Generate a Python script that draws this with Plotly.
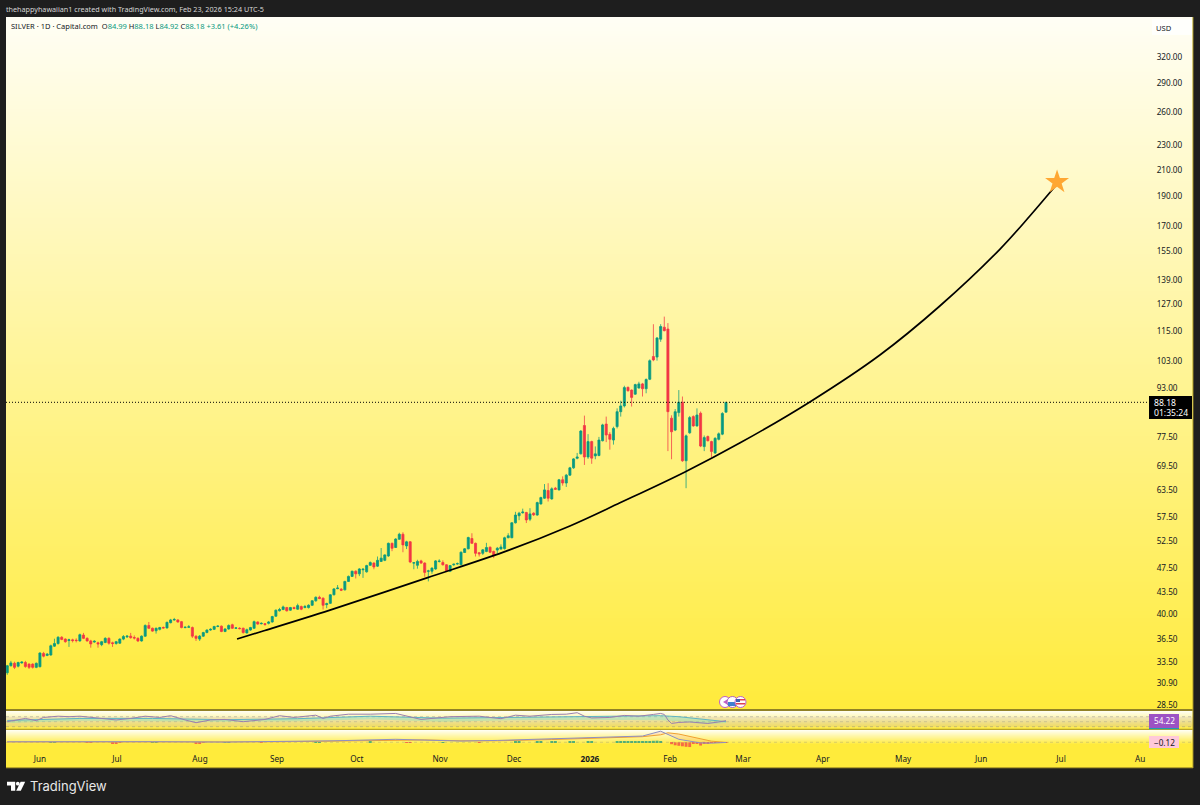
import plotly.graph_objects as go

W = 1200
H = 805

# daily silver candles
open_ = [
    32.15, 33.0, 33.3, 32.95, 33.35, 33.4, 33.2, 33.2, 32.8, 32.88,
    34.55, 34.3, 34.35, 35.5, 35.85, 36.7, 36.45, 36.25, 36.35, 36.3,
    36.2, 37.0, 36.55, 36.2, 36.05, 35.95, 35.7, 36.0, 36.55, 35.95,
    35.85, 35.9, 36.45, 36.75, 36.85, 36.65, 36.55, 36.2, 36.85, 38.35,
    37.95, 37.6, 37.8, 38.05, 38.0, 38.75, 39.15, 39.15, 38.9, 38.05,
    38.1, 38.05, 36.85, 36.45, 36.85, 37.35, 37.7, 37.8, 38.2, 38.25,
    37.5, 37.85, 38.45, 37.95, 37.95, 37.95, 37.3, 37.7, 37.95, 38.85,
    38.6, 38.6, 38.65, 38.85, 39.7, 40.5, 40.7, 41.0, 40.6, 41.0, 40.75, 41.15,
    41.0, 41.0, 41.35, 42.05, 42.6, 42.45, 41.45, 41.65, 43.0, 44.0,
    43.9, 43.8, 45.2, 46.05, 46.95, 46.5, 47.2, 46.85, 48.0, 48.4,
    47.85, 48.7, 48.9, 49.7, 52.1, 51.3, 52.9, 53.9, 51.6, 52.4,
    48.4, 48.0, 48.8, 48.4, 46.95, 46.95, 47.35, 48.7, 48.5, 48.1,
    46.95, 48.1, 48.25, 48.1, 50.35, 51.05, 53.05, 52.1, 50.3, 50.2,
    50.55, 51.35, 50.55,
    50.8, 51.0, 51.1, 53.2, 53.2, 56.25, 57.75, 58.4, 58.45, 57.0,
    58.3, 57.9, 60.35, 61.65, 63.45, 61.5, 64.0, 63.6, 66.05, 65.25,
    67.2, 69.05, 71.55, 72.75, 80.85, 71.9, 76.15, 72.2, 72.3, 76.4,
    81.3, 78.25,
    76.6, 80.55, 85.15, 87.0, 93.25, 92.3, 90.9, 93.0, 94.45, 92.75,
    96.1, 104.6, 104.4, 111.6, 116.7, 115.9, 83.1, 79.5, 84.85, 88.2,
    70.9, 78.7, 83.6, 80.75, 84.65, 74.75, 77.6, 76.15, 73.0, 76.8, 78.3, 84.99,
]
high = [
    33.1, 33.6, 33.5, 33.5, 33.55, 33.6, 33.3, 33.3, 33.4, 34.7,
    34.75, 34.6, 35.7, 36.5, 36.85, 36.85, 36.55, 36.5, 36.5, 36.55,
    37.2, 37.3, 36.7, 36.35, 36.3, 36.1, 36.2, 36.7, 36.7, 36.1,
    36.2, 36.55, 37.0, 37.0, 37.3, 36.95, 36.7, 36.95, 38.5, 38.85,
    38.05, 38.05, 38.15, 38.2, 38.9, 39.3, 39.45, 39.25, 39.0, 38.2,
    38.4, 38.2, 36.95, 37.0, 37.45, 37.8, 37.95, 38.3, 38.4, 38.35,
    37.95, 38.5, 38.6, 38.1, 38.1, 38.05, 37.9, 38.15, 39.05, 38.95,
    38.8, 38.7, 39.0, 39.75, 40.7, 40.95, 41.3, 41.1, 41.1, 41.15, 41.6, 41.3,
    41.4, 41.5, 42.15, 42.75, 42.85, 42.6, 41.75, 43.1, 44.1, 44.6,
    44.1, 45.3, 46.2, 47.05, 47.1, 47.5, 47.5, 48.1, 48.7, 48.55,
    49.6, 51.2, 50.0, 52.25, 52.25, 53.1, 54.2, 54.3, 52.6, 52.55,
    48.6, 49.0, 49.0, 48.55, 47.2, 47.65, 48.95, 49.1, 48.9, 48.2,
    48.05, 48.3, 48.5, 50.55, 51.2, 53.4, 54.1, 52.25, 50.45, 51.0,
    52.2, 51.5, 50.7,
    51.4, 51.9, 53.4, 54.1, 56.4, 58.6, 58.6, 59.3, 58.6, 59.4,
    58.5, 60.85, 62.0, 65.0, 65.2, 64.2, 64.3, 66.25, 66.9, 67.5,
    69.3, 71.6, 73.0, 79.5, 83.9, 78.3, 76.4, 74.8, 77.5, 81.4,
    83.6, 78.9,
    80.5, 86.2, 88.7, 93.8, 93.5, 92.5, 94.5, 95.2, 94.8, 96.4,
    103.5, 118.0, 112.5, 118.0, 121.4, 118.5, 84.0, 86.0, 92.3, 90.1,
    78.2, 83.8, 84.0, 86.2, 85.2, 77.9, 77.9, 76.4, 77.4, 78.8, 85.0, 88.18,
]
low = [
    31.9, 32.9, 32.6, 32.8, 33.25, 32.75, 32.6, 32.65, 32.7, 32.8,
    34.05, 34.2, 34.25, 35.4, 35.7, 36.3, 35.95, 35.4, 36.0, 36.0,
    36.1, 36.45, 36.1, 35.3, 35.95, 35.3, 35.5, 35.9, 35.7, 35.4,
    35.7, 35.8, 36.3, 36.6, 36.5, 36.4, 36.05, 36.1, 36.75, 37.85,
    37.45, 37.2, 37.65, 37.9, 37.9, 38.65, 39.05, 38.75, 37.95, 37.95,
    38.0, 36.6, 36.2, 36.2, 36.75, 37.25, 37.6, 37.7, 38.1, 37.4,
    37.4, 37.75, 37.85, 37.85, 37.8, 37.2, 37.2, 37.6, 37.85, 38.45,
    38.5, 38.3, 38.5, 38.75, 39.6, 40.4, 40.6, 40.4, 40.5, 40.75, 40.65, 40.6,
    40.9, 40.85, 41.25, 41.9, 42.3, 40.7, 40.9, 41.55, 42.9, 43.9,
    43.6, 43.7, 45.1, 45.95, 45.7, 46.1, 45.8, 46.7, 47.9, 47.3,
    47.7, 48.6, 48.75, 49.55, 50.6, 51.2, 52.8, 50.4, 51.0, 48.4,
    47.3, 47.4, 48.25, 46.0, 45.2, 46.5, 47.2, 48.5, 47.95, 46.8,
    46.8, 47.9, 48.1, 48.0, 50.25, 50.95, 52.0, 49.6, 49.6, 49.9,
    50.4, 50.25, 49.3,
    50.2, 50.9, 50.9, 53.1, 53.1, 56.1, 56.8, 58.2, 56.2, 56.6,
    57.7, 57.75, 60.2, 61.5, 60.9, 61.3, 63.6, 63.45, 64.6, 64.3,
    67.0, 68.8, 71.3, 72.6, 69.8, 71.4, 70.1, 71.3, 72.1, 76.2,
    76.0, 73.9,
    75.3, 80.0, 83.6, 86.5, 91.8, 86.8, 90.7, 92.8, 90.1, 91.2,
    95.8, 102.8, 103.0, 110.5, 114.9, 73.5, 71.3, 79.2, 83.6, 70.6,
    64.0, 78.4, 80.5, 80.5, 74.6, 73.5, 76.2, 71.8, 72.7, 76.5, 78.0, 84.92,
]
close = [
    33.0, 33.35, 32.8, 33.4, 33.45, 32.9, 32.8, 32.8, 33.3, 34.6,
    34.2, 34.45, 35.55, 35.85, 36.7, 36.4, 36.1, 36.35, 36.25, 36.25,
    37.05, 36.55, 36.2, 35.8, 36.15, 35.8, 36.1, 36.55, 35.9, 35.85,
    36.1, 36.45, 36.8, 36.85, 36.65, 36.6, 36.2, 36.85, 38.35, 37.95,
    37.55, 37.95, 38.05, 38.0, 38.8, 39.15, 39.2, 38.85, 38.05, 38.1,
    38.15, 36.85, 36.55, 36.85, 37.35, 37.7, 37.8, 38.2, 38.25, 37.5,
    37.85, 38.35, 37.95, 38.0, 37.9, 37.35, 37.75, 38.05, 38.9, 38.55,
    38.65, 38.5, 38.85, 39.65, 40.6, 40.7, 41.1, 40.5, 41.0, 40.85, 41.3, 40.75,
    41.15, 41.35, 42.05, 42.6, 42.4, 41.35, 41.6, 43.0, 43.95, 44.1,
    43.75, 45.2, 46.05, 46.95, 46.5, 47.35, 47.3, 47.95, 48.5, 47.7,
    48.9, 49.3, 49.9, 52.1, 51.15, 52.95, 53.9, 51.8, 52.4, 48.6,
    48.45, 48.7, 48.4, 46.75, 47.0, 47.5, 48.8, 48.75, 48.1, 47.0,
    47.95, 48.2, 48.3, 50.4, 51.05, 53.25, 52.1, 50.2, 50.1, 50.85,
    51.3, 50.4, 49.75,
    51.15, 51.4, 53.2, 53.6, 56.25, 57.9, 58.3, 58.55, 56.85, 58.15,
    57.95, 60.65, 61.8, 63.6, 61.65, 63.85, 63.75, 66.05, 65.25, 67.2,
    69.05, 71.4, 71.9, 79.2, 71.9, 76.15, 71.6, 72.75, 76.6, 81.05,
    78.05, 76.8,
    80.0, 85.15, 87.0, 93.15, 92.05, 89.8, 94.2, 94.45, 92.75, 96.0,
    103.0, 103.3, 112.1, 117.0, 115.2, 85.15, 79.0, 85.15, 88.2, 70.9,
    77.8, 83.3, 80.75, 84.1, 74.9, 77.3, 76.4, 73.4, 77.1, 78.4, 84.57, 88.18,
]

# hand drawn curve and the star at its end
curve_bar = [63.3, 70.5, 88.9, 115.6, 138.2, 155.0, 168.8, 186.7, 201.9, 221.1, 240.4, 256.9, 273.5, 281.7, 289.2]
curve_price = [36.46, 37.56, 40.6, 45.8, 50.8, 55.6, 60.6, 68.0, 75.8, 88.3, 105.2, 126.3, 156.2, 176.7, 199.1]
star_bar = [289.2]
star_price = [200.6]
last_price = 88.18

price_ticks = [320, 290, 260, 230, 210, 190, 170, 155, 139, 127, 115, 103, 93, 77.5, 69.5, 63.5, 57.5, 52.5, 47.5, 43.5, 40, 36.5, 33.5, 30.9, 28.5]
price_labels = ["320.00", "290.00", "260.00", "230.00", "210.00", "190.00", "170.00", "155.00", "139.00", "127.00", "115.00", "103.00", "93.00",
                "77.50", "69.50", "63.50", "57.50", "52.50", "47.50", "43.50", "40.00", "36.50", "33.50", "30.90", "28.50"]

month_bars = [9.0, 30.2, 53.1, 74.3, 96.3, 119.2, 139.6, 160.5, 182.6, 202.7, 224.7, 246.8, 268.3, 290.3, 312.1]
month_labels = ["Jun", "Jul", "Aug", "Sep", "Oct", "Nov", "Dec", "<b>2026</b>", "Feb", "Mar", "Apr", "May", "Jun", "Jul", "Au"]

# RSI pane
rsi_bar = [0, 5, 8, 10, 14, 17, 20, 25, 30, 34, 38, 42, 45, 49, 52, 56, 60, 65, 71, 75, 79, 85, 87, 89, 94, 100, 107, 114, 122, 130, 136,
           140, 144, 150, 154, 157, 159, 161, 164, 166, 170, 174, 178, 180, 181, 182, 183, 185, 188, 191, 193, 196, 198]
rsi = [50, 63, 54, 67, 72, 70, 72, 65, 57, 63, 72, 67, 74, 57, 46, 57, 59, 50, 59, 74, 67, 76, 63, 72, 80, 80, 83, 59, 70, 72, 62,
       76, 72, 79, 80, 86, 72, 65, 66, 67, 75, 72, 79, 83, 79, 57, 43, 47, 49, 46, 43, 49, 54.22]
rsi_ma_bar = [0, 20, 40, 60, 80, 100, 120, 140, 160, 180, 185, 190, 195, 198]
rsi_ma = [55, 63, 63, 58, 62, 72, 64, 68, 72, 74, 70, 62, 52, 50]
rsi_low = [45, 54, 52, 50, 52, 60, 50, 56, 58, 56, 52, 43, 42, 45]

# MACD pane
macd_bar = [0, 20, 40, 60, 75, 90, 107, 115, 125, 135, 150, 160, 170, 175, 180, 182, 185, 191, 194, 198]
macd = [0.4, 0.6, 0.5, 0.2, 0.5, 1.2, 2.4, 1.6, 1.0, 1.5, 2.6, 3.5, 4.2, 5.0, 8.9, 6.4, 2.4, -0.5, -0.7, -0.12]
signal = [0.3, 0.5, 0.5, 0.3, 0.4, 1.0, 2.1, 1.9, 1.2, 1.2, 2.2, 3.1, 3.9, 4.5, 6.0, 7.6, 6.6, 2.4, 0.9, -0.1]
hist_bar = [12, 13, 22, 23, 29, 30, 31, 40, 41, 52, 53, 54, 60, 61, 70, 85, 86, 100, 110, 111, 120, 130, 140, 141, 146, 147, 150, 151, 155, 156, 160, 161,
            168, 169, 170, 171, 172, 173, 174, 175, 176, 177, 178, 179, 180, 183, 184, 185, 186, 187, 188, 189, 190, 191, 192, 193, 194, 195, 196, 197, 198]
hist = [0.2, 0.2, -0.2, -0.3, -0.6, -0.7, -0.5, 0.2, 0.2, -0.7, -0.6, -0.5, 0.2, 0.2, -0.2, 0.3, 0.2, 0.3, -0.2, -0.3, 0.2, -0.2, 0.3, 0.3, 0.4, 0.3, 0.4, 0.4, 0.3, 0.3, 0.5, 0.4,
        0.5, 0.6, 0.4, 0.3, 0.5, 0.6, 0.7, 0.5, 0.8, 1.0, 1.2, 1.3, 1.0, -1.5, -2.4, -2.8, -3.2, -3.6, -3.8, -1.0, -1.2, -2.6, -1.0, -0.8, -0.5, -0.4, -0.3, -0.1, -0.02]


def xp(x):
    return x / W


def yp(y):
    return 1 - y / H


def pane(top, bottom):
    return [yp(bottom), yp(top)]


bar_ids = list(range(len(close)))
x_range = [(6 - 7.26) / 3.63, (1193 - 7.26) / 3.63]
bg_x = [x_range[0] - 1, x_range[1] + 1]

fig = go.Figure()

# pane backgrounds
main_scale = [[0, "#fffef5"], [1, "#ffeb3b"]]
fig.add_trace(go.Heatmap(x=bg_x, y=[371.3, 28.08], z=[[0, 0], [1, 1]], zmin=0, zmax=1, colorscale=main_scale,
                         zsmooth="best", showscale=False, hoverinfo="skip"))
fig.add_trace(go.Heatmap(x=bg_x, y=[92.8, 20.8], z=[[0, 0], [1, 1]], zmin=0, zmax=1, colorscale=[[0, "#fffef0"], [1, "#ffeb3b"]],
                         zsmooth="best", showscale=False, hoverinfo="skip", xaxis="x2", yaxis="y2"))
fig.add_trace(go.Heatmap(x=bg_x, y=[9.84, -1.4, -4.56], z=[[0, 0], [1, 1], [1, 1]], zmin=0, zmax=1, colorscale=[[0, "#fffef0"], [1, "#ffeb3b"]],
                         zsmooth="best", showscale=False, hoverinfo="skip", xaxis="x3", yaxis="y3"))

# candles, wicks come out lighter than the bodies
fig.add_trace(go.Candlestick(x=bar_ids, open=open_, high=high, low=low, close=close,
                             increasing=dict(line=dict(color="rgba(8,153,129,0.75)", width=1), fillcolor="#089981"),
                             decreasing=dict(line=dict(color="rgba(242,54,69,0.75)", width=1), fillcolor="#f23645"),
                             whiskerwidth=0, hoverinfo="skip"))
fig.add_trace(go.Scatter(x=x_range, y=[last_price, last_price], mode="lines",
                         line=dict(color="#000000", width=1, dash="1px,2px"), hoverinfo="skip"))
fig.add_trace(go.Scatter(x=curve_bar, y=curve_price, mode="lines",
                         line=dict(color="#000000", width=1.7, shape="spline"), hoverinfo="skip"))
fig.add_trace(go.Scatter(x=star_bar, y=star_price, mode="markers",
                         marker=dict(symbol="star", size=18, color="#ffa733", line=dict(width=0)), hoverinfo="skip"))

# RSI
fig.add_trace(go.Scatter(x=x_range, y=[70, 70], mode="lines", line=dict(color="rgba(120,123,134,0.55)", width=0.7, dash="3px,3px"),
                         hoverinfo="skip", xaxis="x2", yaxis="y2"))
fig.add_trace(go.Scatter(x=x_range, y=[30, 30], mode="lines", line=dict(color="rgba(120,123,134,0.55)", width=0.7, dash="3px,3px"),
                         fill="tonexty", fillcolor="rgba(126,87,194,0.12)", hoverinfo="skip", xaxis="x2", yaxis="y2"))
fig.add_trace(go.Scatter(x=x_range, y=[50, 50], mode="lines", line=dict(color="rgba(120,123,134,0.4)", width=0.7, dash="3px,3px"),
                         hoverinfo="skip", xaxis="x2", yaxis="y2"))
fig.add_trace(go.Scatter(x=rsi_ma_bar, y=rsi_low, mode="lines", line=dict(width=0), hoverinfo="skip", xaxis="x2", yaxis="y2"))
fig.add_trace(go.Scatter(x=rsi_ma_bar, y=rsi_ma, mode="lines", line=dict(color="#5fb5c4", width=1),
                         fill="tonexty", fillcolor="rgba(64,224,208,0.25)", hoverinfo="skip", xaxis="x2", yaxis="y2"))
fig.add_trace(go.Scatter(x=rsi_bar, y=rsi, mode="lines", line=dict(color="#9a7fb0", width=1), hoverinfo="skip", xaxis="x2", yaxis="y2"))

# MACD
fig.add_trace(go.Scatter(x=x_range, y=[0, 0], mode="lines", line=dict(color="rgba(120,123,134,0.4)", width=0.7, dash="3px,3px"),
                         hoverinfo="skip", xaxis="x3", yaxis="y3"))
fig.add_trace(go.Bar(x=hist_bar, y=hist, width=0.8, opacity=0.7,
                     marker=dict(color=["#089981" if v > 0 else "#f23645" for v in hist], line=dict(width=0)),
                     hoverinfo="skip", xaxis="x3", yaxis="y3"))
fig.add_trace(go.Scatter(x=macd_bar, y=signal, mode="lines", line=dict(color="#f0a030", width=1), hoverinfo="skip", xaxis="x3", yaxis="y3"))
fig.add_trace(go.Scatter(x=macd_bar, y=macd, mode="lines", line=dict(color="#8d8fc4", width=1),
                         fill="tonexty", fillcolor="rgba(242,54,69,0.10)", hoverinfo="skip", xaxis="x3", yaxis="y3"))

shapes = []


def rect(x0, y0, x1, y1, fill, line=None, layer="above"):
    shapes.append(dict(type="rect", xref="paper", yref="paper", x0=xp(x0), x1=xp(x1), y0=yp(y1), y1=yp(y0),
                       fillcolor=fill, line=dict(width=0 if line is None else 1, color=line), layer=layer))


def circle(cx, cy, r, fill, line, width=1):
    shapes.append(dict(type="circle", xref="paper", yref="paper", x0=xp(cx - r), x1=xp(cx + r), y0=yp(cy + r), y1=yp(cy - r),
                       fillcolor=fill, line=dict(width=width, color=line), layer="above"))


def path(points, fill):
    d = "M " + " L ".join(f"{xp(a):.5f},{yp(b):.5f}" for a, b in points) + " Z"
    shapes.append(dict(type="path", path=d, xref="paper", yref="paper", fillcolor=fill, line=dict(width=0), layer="above"))


# time strip and the pane frames
rect(6, 748, 1193, 767, "#ffeb3b", layer="below")
rect(6, 709.3, 1193, 710.8, "#b8a52a")
rect(6, 728.8, 1193, 730, "#b8a52a")
rect(6, 767, 1193, 768.2, "#b8a52a")
rect(1192.4, 17, 1193.4, 768, "#b8a52a")

# price scale boxes
rect(1152, 19, 1192, 35, "rgba(255,255,255,0.75)")
rect(1149, 396, 1192, 419, "#000000")
rect(1149, 714, 1179, 728, "#9c52c4")
rect(1149, 728, 1179, 729.2, "#1e9cb0")
rect(1149, 736, 1179, 748, "#ffc9d9")

# event badges
circle(725, 702, 5.5, "#ffffff", "#c060c8")
path([(723, 702), (728, 699), (728, 705)], "#c060c8")
circle(732.5, 702, 5.5, "#ffffff", "#b060c0")
path([(728, 702), (737, 702), (737, 706), (728, 706)], "#3f7fd0")
circle(740.5, 702, 5.5, "#ffffff", "#c060c8")
path([(736, 699), (745, 699), (745, 700.5), (736, 700.5)], "#e04050")
path([(736, 703), (745, 703), (745, 704.5), (736, 704.5)], "#e04050")
path([(736, 699), (740, 699), (740, 702), (736, 702)], "#3f5fb0")

# TradingView logo
path([(7, 781.7), (15.2, 781.7), (15.2, 790.8), (11, 790.8), (11, 785.6), (7, 785.6)], "#ffffff")
circle(17.8, 783.7, 1.9, "#ffffff", "#ffffff", width=0)
path([(20.6, 781.7), (25.2, 781.7), (20.8, 790.8), (16.2, 790.8)], "#ffffff")


def label(x, y, text, size=8.2, color="#131722", anchor="left", font="Noto Sans"):
    fig.add_annotation(x=xp(x), y=yp(y), xref="paper", yref="paper", text=text, showarrow=False, xanchor=anchor, yanchor="middle",
                       font=dict(family=font, size=size, color=color), borderpad=0, borderwidth=0)


up = "#089981"
label(6, 9, "thehappyhawaiian1 created with TradingView.com, Feb 23, 2026 15:24 UTC-5", size=7.2, color="#d6d6d6")
label(11, 26, "SILVER · 1D · Capital.com&#160;&#160;"
      f"O<span style='color:{up}'>84.99</span> H<span style='color:{up}'>88.18</span> "
      f"L<span style='color:{up}'>84.92</span> C<span style='color:{up}'>88.18</span> "
      f"<span style='color:{up}'>+3.61 (+4.26%)</span>", size=7.5)
label(1156, 27.5, "USD", size=7.6)
label(1154, 402.5, "88.18", size=8.6, color="#ffffff")
label(1154, 412.5, "01:35:24", size=8.6, color="#ffffff")
label(1154, 720.5, "54.22", color="#ffffff")
label(1154, 742.5, "−0.12")
label(30, 786, "TradingView", size=13, color="#e8e8e8", font="Inter")

fig.update_layout(
    width=W,
    height=H,
    margin=dict(l=0, r=0, t=0, b=0),
    autosize=False,
    paper_bgcolor="#1e1e1e",
    plot_bgcolor="rgba(0,0,0,0)",
    showlegend=False,
    barmode="overlay",
    boxgap=0.18,
    shapes=shapes,
    font=dict(family="Noto Sans", size=8.2, color="#131722"),
    xaxis=dict(domain=[xp(6), xp(1193)], range=x_range, visible=False, rangeslider=dict(visible=False), anchor="y"),
    yaxis=dict(domain=pane(17, 709), type="log", range=[1.44840, 2.56972], anchor="free", position=1148 / W, side="right",
               showgrid=False, zeroline=False, showline=False, ticks="outside", ticklen=6, tickcolor="rgba(0,0,0,0)",
               tickvals=price_ticks, ticktext=price_labels, tickfont=dict(family="Noto Sans", size=8.2, color="#131722")),
    xaxis2=dict(domain=[xp(6), xp(1193)], range=x_range, visible=False, anchor="y2"),
    yaxis2=dict(domain=pane(711, 729), range=[20.8, 92.8], visible=False, anchor="x2"),
    xaxis3=dict(domain=[xp(6), xp(1193)], range=x_range, anchor="y3", showgrid=False, zeroline=False, showline=False,
                ticks="outside", ticklen=3, tickcolor="rgba(0,0,0,0)", tickvals=month_bars, ticktext=month_labels,
                tickfont=dict(family="Noto Sans", size=8.2, color="#131722")),
    yaxis3=dict(domain=pane(730, 748), range=[-4.56, 9.84], visible=False, anchor="x3"),
)

# the page keeps the browser's default body margin otherwise
fig.write_html("out.html", config={"displayModeBar": False}, post_script="document.body.style.margin = '0';")
